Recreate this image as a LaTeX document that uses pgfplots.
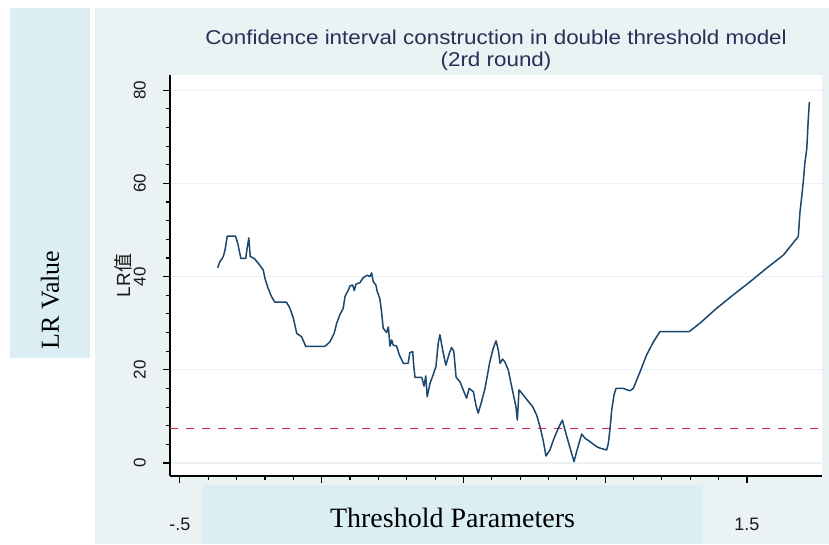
\documentclass[border=0pt]{standalone}
\usepackage{fontspec}
\setmainfont{Liberation Sans}
\newfontfamily\titlefont{Liberation Sans}[FakeStretch=1.12]
\newfontfamily\seriffont{Liberation Serif}
\newfontfamily\cjk{Noto Sans CJK SC}
\usepackage{pgfplots}
\usepackage{pgfplotstable}
\pgfplotsset{compat=1.18}

\definecolor{stbg}{RGB}{234,242,243}
\definecolor{boxblue}{RGB}{218,238,243}
\definecolor{stnavy}{RGB}{26,71,111}
\definecolor{stred}{RGB}{216,38,72}
\definecolor{titlecol}{RGB}{40,48,90}
\definecolor{labcol}{RGB}{25,25,25}

% LR statistic against threshold value
\pgfplotstableread{
x y
-0.367 41.9
-0.359 43.2
-0.347 44.3
-0.341 45.7
-0.333 48.7
-0.304 48.7
-0.296 47.1
-0.285 43.9
-0.268 43.9
-0.263 46.1
-0.257 48.3
-0.252 44.3
-0.238 43.9
-0.224 42.9
-0.206 41.4
-0.200 39.6
-0.189 37.5
-0.177 35.7
-0.165 34.5
-0.124 34.5
-0.112 33.2
-0.100 31.1
-0.088 27.8
-0.071 27.1
-0.056 25.0
0.011 25.0
0.029 26.0
0.044 27.8
0.053 30.0
0.064 31.8
0.076 33.2
0.082 35.7
0.094 37.1
0.100 38.0
0.109 38.2
0.115 37.0
0.121 38.4
0.135 38.7
0.147 39.8
0.161 40.3
0.170 40.0
0.176 40.8
0.182 38.9
0.191 38.2
0.196 36.8
0.205 35.3
0.211 32.5
0.217 28.9
0.229 28.0
0.235 29.2
0.241 25.1
0.247 26.4
0.252 25.3
0.264 25.1
0.274 23.2
0.288 21.4
0.305 21.4
0.311 23.7
0.321 23.9
0.325 20.7
0.329 18.4
0.353 18.4
0.361 16.5
0.367 18.7
0.372 14.2
0.382 17.1
0.393 18.9
0.403 20.7
0.411 25.7
0.417 27.5
0.429 23.5
0.438 21.0
0.450 23.5
0.458 24.8
0.466 23.9
0.474 18.4
0.488 17.4
0.499 15.7
0.511 13.9
0.520 16.0
0.535 15.3
0.544 12.4
0.552 10.7
0.564 13.2
0.576 16.0
0.593 21.7
0.605 24.6
0.615 26.2
0.623 24.2
0.629 21.4
0.638 22.3
0.646 21.7
0.658 20.0
0.670 16.4
0.685 12.1
0.690 9.2
0.696 15.7
0.711 14.6
0.725 13.5
0.744 12.1
0.758 10.3
0.770 7.8
0.781 4.9
0.791 1.5
0.805 2.8
0.817 4.9
0.834 7.4
0.849 9.2
0.858 7.1
0.876 3.2
0.890 0.3
0.899 2.4
0.917 6.2
0.929 5.3
0.946 4.6
0.970 3.5
0.981 3.2
1.005 2.8
1.011 4.2
1.017 7.4
1.023 11.4
1.031 14.6
1.038 16.0
1.064 16.0
1.087 15.5
1.099 16.0
1.123 19.6
1.146 23.2
1.170 26.0
1.193 28.2
1.296 28.2
1.311 28.9
1.334 30.0
1.393 33.2
1.452 36.1
1.511 38.9
1.569 41.8
1.628 44.6
1.681 48.6
1.687 53.9
1.693 57.1
1.699 60.7
1.704 64.3
1.711 67.5
1.716 73.6
1.720 77.5
}\lrdata

\begin{document}
\begin{tikzpicture}[x=1pt,y=1pt]
  \useasboundingbox (0,0) rectangle (829,544);
  \fill[white] (0,0) rectangle (829,544);
  \fill[stbg] (95,0) rectangle (829,536);
  \fill[boxblue] (10,186) rectangle (90,536);
  \node[rotate=90, font=\seriffont\fontsize{26}{28}\selectfont] at (50,244) {LR Value};

  \node[anchor=base, text=titlecol, font=\titlefont\fontsize{20}{22}\selectfont] at (496,499)
    {Confidence interval construction in double threshold model};
  \node[anchor=base, text=titlecol, font=\titlefont\fontsize{20}{22}\selectfont] at (496,477.5)
    {(2rd round)};

  \begin{axis}[
    at={(170pt,68pt)}, anchor=south west,
    scale only axis, width=652pt, height=401pt,
    xmin=-0.535, xmax=1.7646, ymin=-2.79, ymax=83.26,
    axis x line*=bottom, axis y line*=left,
    axis line style={black, line width=1.1pt},
    axis background/.style={fill=white},
    % the labels 0, .5 and 1 sit under the caption box
    xtick={-0.5,0,0.5,1,1.5}, xticklabels={-.5,,,,1.5},
    minor x tick num=4,
    ytick={0,20,40,60,80}, minor y tick num=4,
    tick align=outside,
    major tick length=7pt, minor tick length=4pt,
    every tick/.style={black, line width=1.1pt},
    ymajorgrids, major grid style={stbg, line width=1.2pt},
    ticklabel style={text=labcol, inner sep=0pt},
    /pgf/number format/assume math mode=true,
    xticklabel style={anchor=north, font=\fontsize{18}{20}\selectfont}, xticklabel shift=35pt,
    yticklabel style={rotate=90, anchor=south, font=\fontsize{17}{19}\selectfont}, yticklabel shift=17pt,
    ylabel={LR\cjk{值}},
    ylabel style={at={(axis description cs:-0.0721,0.5)}, anchor=center,
      text=labcol, font=\fontsize{19}{20}\selectfont},
  ]
    \addplot[stred, line width=1.3pt, dash pattern=on 8pt off 8pt]
      coordinates {(-0.535,7.35) (1.7646,7.35)};
    \addplot[stnavy, line width=1.5pt, line join=round] table[x=x, y=y] {\lrdata};
  \end{axis}

  \fill[boxblue] (202,0) rectangle (703,59);
  \node[anchor=base, font=\seriffont\fontsize{28}{30}\selectfont] at (452.5,17) {Threshold Parameters};
\end{tikzpicture}
\end{document}
